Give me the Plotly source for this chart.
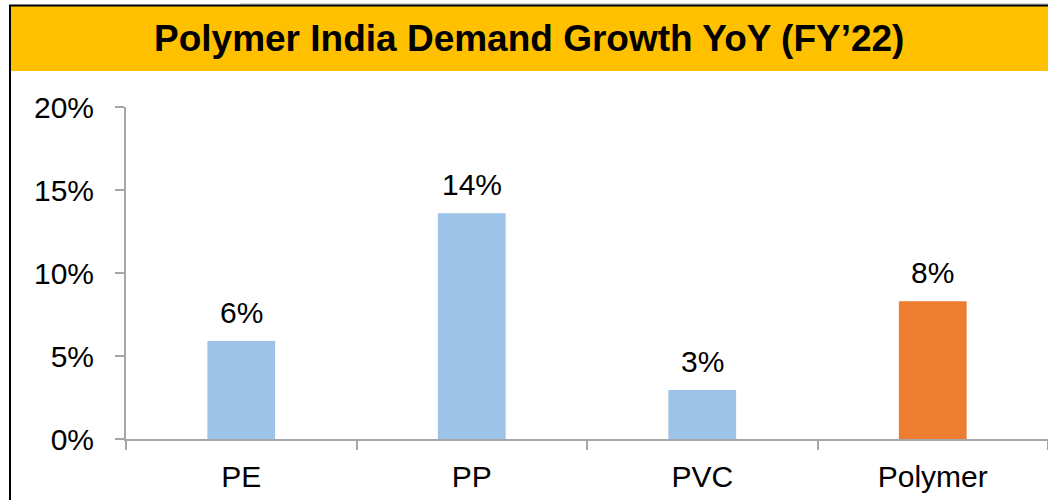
import plotly.graph_objects as go

categories = ["PE", "PP", "PVC", "Polymer"]
growth_pct = [5.9, 13.6, 2.95, 8.3]
bar_colors = ["#9DC3E6", "#9DC3E6", "#9DC3E6", "#ED7D31"]
y_ticks = [0, 5, 10, 15, 20]
y_tick_labels = ["0%", "5%", "10%", "15%", "20%"]
title_text = "Polymer India Demand Growth YoY (FY\u201922)"

W, H = 1048, 500
L, R, T, B = 126, 0, 107, 61
PW, PH = W - L - R, H - T - B

def px(x):
    return (x - L) / PW

def py(y):
    return (H - B - y) / PH

FONT = "Liberation Sans, Arial, sans-serif"
AXIS_GRAY = "#A6A6A6"

fig = go.Figure()
fig.add_trace(go.Bar(
    x=categories, y=growth_pct, marker=dict(color=bar_colors, line=dict(width=0)),
    width=0.294, showlegend=False, hoverinfo="skip",
))

for c, v in zip(categories, growth_pct):
    fig.add_annotation(x=c, y=v, text=f"{round(v)}%", showarrow=False,
                       yanchor="bottom", xanchor="center", yshift=10,
                       font=dict(family=FONT, size=30, color="#000000"))

# banner
fig.add_shape(type="rect", xref="paper", yref="paper",
              x0=px(11), x1=px(1048), y0=py(71), y1=py(6),
              fillcolor="#FFC000", line=dict(width=0), layer="below")
# borders
fig.add_shape(type="line", xref="paper", yref="paper",
              x0=px(240), x1=px(1048), y0=py(4), y1=py(4),
              line=dict(color="#B0B0B0", width=1))
fig.add_shape(type="line", xref="paper", yref="paper",
              x0=px(9), x1=px(1048), y0=py(5.5), y1=py(5.5),
              line=dict(color="#000000", width=2))
fig.add_shape(type="line", xref="paper", yref="paper",
              x0=px(10), x1=px(10), y0=py(5), y1=py(500),
              line=dict(color="#000000", width=2))

fig.add_annotation(xref="paper", yref="paper", x=px(529), y=py(38.5),
                   text=f"<b>{title_text}</b>", showarrow=False,
                   xanchor="center", yanchor="middle",
                   font=dict(family=FONT, size=37, color="#000000"))

fig.update_layout(
    width=W, height=H,
    margin=dict(l=L, r=R, t=T, b=B, pad=0),
    paper_bgcolor="white", plot_bgcolor="white",
    font=dict(family=FONT, size=30, color="#000000"),
    xaxis=dict(range=[-0.5, 3.5], showline=True, linecolor=AXIS_GRAY, linewidth=2,
               ticks="outside", tickson="boundaries", ticklen=9, tickcolor=AXIS_GRAY,
               tickwidth=2, showgrid=False, ticklabelstandoff=10,
               tickfont=dict(size=30, family=FONT)),
    yaxis=dict(range=[0, 20], tickmode="array", tickvals=y_ticks, ticktext=y_tick_labels,
               showline=True, linecolor=AXIS_GRAY, linewidth=2, ticks="outside", ticklen=9,
               tickcolor=AXIS_GRAY, tickwidth=2, showgrid=False, zeroline=False,
               ticklabelstandoff=15, tickfont=dict(size=30, family=FONT)),
)

fig.write_html("out.html", config={"displayModeBar": False, "staticPlot": True},
               post_script="document.body.style.margin='0';document.body.style.overflow='hidden';")
